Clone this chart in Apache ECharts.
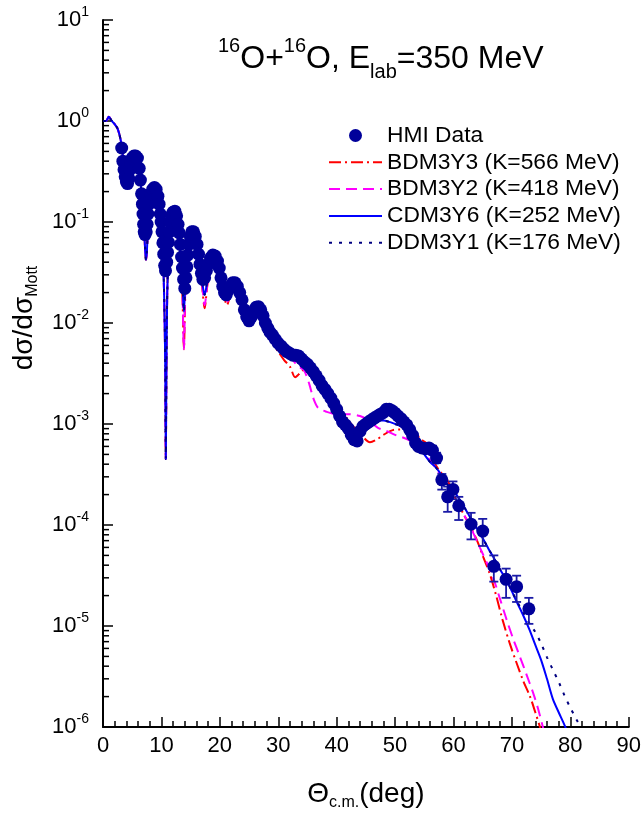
<!DOCTYPE html>
<html><head><meta charset="utf-8">
<script src="https://cdn.jsdelivr.net/npm/echarts@6/dist/echarts.min.js"></script>
<style>html,body{margin:0;padding:0;background:#fff}#c{width:644px;height:817px}</style>
</head><body><div id="c"></div><script>
// ---- data (theta c.m. in deg, dsigma/dsigma_Mott) ----
const hmiData = [
[3.2,0.54],[3.4,0.40],[3.6,0.33],[3.8,0.28],[4.0,0.25],[4.2,0.24],[4.4,0.27],[4.6,0.33],[4.8,0.38],[5.0,0.43],
[5.3,0.45],[5.6,0.45],[5.9,0.43],[6.2,0.34],[6.4,0.26],[6.6,0.19],[6.75,0.15],[6.85,0.12],[6.95,0.095],[7.05,0.08],
[7.2,0.075],[7.4,0.08],[7.55,0.095],[7.7,0.12],[7.85,0.15],[8.0,0.17],[8.2,0.19],[8.5,0.21],[8.8,0.22],[9.1,0.21],
[9.4,0.18],[9.6,0.15],[9.8,0.12],[9.95,0.10],[10.1,0.08],[10.25,0.062],[10.4,0.048],[10.55,0.037],[10.7,0.033],[10.9,0.040],
[11.05,0.050],[11.2,0.063],[11.35,0.08],[11.5,0.10],[11.7,0.115],[12.0,0.125],[12.3,0.128],[12.6,0.115],[12.85,0.095],[13.05,0.078],
[13.25,0.060],[13.45,0.045],[13.6,0.035],[13.8,0.027],[14.0,0.022],[14.2,0.028],[14.35,0.036],[14.5,0.047],[14.7,0.060],[14.95,0.072],
[15.2,0.080],[15.5,0.080],[15.8,0.072],[16.1,0.060],[16.35,0.048],[16.6,0.038],[16.85,0.031],[17.1,0.027],[17.4,0.028],[17.7,0.033],
[18.0,0.038],[18.4,0.044],[18.8,0.047],[19.2,0.046],[19.6,0.041],[19.9,0.035],[20.2,0.028],[20.5,0.023],[20.8,0.020],[21.1,0.019],
[21.4,0.021],[21.8,0.023],[22.2,0.025],[22.6,0.025],[23.0,0.023],[23.4,0.020],[23.8,0.017],[24.2,0.0135],[24.6,0.0115],[25.0,0.0105],
[25.4,0.0115],[25.8,0.013],[26.2,0.0143],[26.6,0.0145],[27.0,0.0135],[27.4,0.0118],[27.8,0.010],[28.2,0.0089],[28.6,0.0081],[29.0,0.0076],
[29.5,0.0069],[30.0,0.0063],[30.5,0.0059],[31.0,0.0055],[31.5,0.0052],[32.0,0.0050],[32.5,0.0048],[33.0,0.0048],[33.5,0.0047],[34.0,0.0044],
[34.5,0.0041],[35.0,0.0039],[35.5,0.0036],[36.0,0.0033],[36.5,0.0030],[37.0,0.0027],[37.5,0.0024],[38.0,0.0022],[38.5,0.0020],[39.0,0.0018],
[39.5,0.0016],[40.0,0.0014],[40.5,0.0012],[41.0,0.00105],[41.5,0.00098],[42.0,0.00090],[42.5,0.00078],[43.0,0.00070],[43.5,0.00068],[44.0,0.00085],
[44.5,0.00095],[45.0,0.0010],[45.5,0.00105],[46.0,0.0011],[46.5,0.00115],[47.0,0.0012],[47.5,0.00125],[48.0,0.0013],[48.5,0.0014],[49.0,0.0014],
[49.5,0.00135],[50.0,0.00128],[50.5,0.0012],[51.0,0.00113],[51.5,0.00105],[52.0,0.00098],[52.5,0.00088],[53.0,0.00077],[53.5,0.00065],[54.0,0.00060],
[54.6,0.00058],[55.2,0.00057],[55.8,0.00058],[56.4,0.00055],[57.1,0.00046],
[58.0,2.8e-4],[59.0,1.9e-4],[59.9,2.25e-4],[60.9,1.55e-4],[63.0,1.02e-4],[65.0,8.7e-5],[66.9,3.9e-5],[69.0,2.9e-5],[70.8,2.45e-5],[72.9,1.48e-5]
];
// error bars: [theta, low, high]
const hmiErrors = [
[56.4,5.0e-4,6.1e-4],[57.1,4.1e-4,5.2e-4],
[58.0,2.24e-4,3.2e-4],[59.0,1.35e-4,2.4e-4],[59.9,1.8e-4,2.7e-4],[60.9,1.12e-4,1.9e-4],[63.0,7.2e-5,1.32e-4],
[65.0,6.2e-5,1.15e-4],[66.9,2.75e-5,5.0e-5],[69.0,1.9e-5,3.7e-5],[70.8,1.73e-5,3.15e-5],[72.9,1.05e-5,1.9e-5]
];
// forward angles: all four calculations coincide
const calcForward = [
[0,1.0],[0.5,1.0],[1.0,1.1],[1.5,1.0],[2.0,0.93],[2.5,0.84],[3.0,0.66],[3.3,0.50],[3.6,0.36],[3.9,0.29],
[4.2,0.27],[4.6,0.33],[5.0,0.40],[5.5,0.45],[5.9,0.43],[6.3,0.30],[6.7,0.16],[7.0,0.09],[7.2,0.055],[7.35,0.042],
[7.5,0.05],[7.7,0.09],[8.0,0.15],[8.5,0.21],[8.9,0.22],[9.3,0.19],[9.7,0.13],[10.0,0.08],[10.3,0.04],[10.5,0.015],
[10.65,0.004],[10.75,0.00045],[10.85,0.003],[11.0,0.02],[11.3,0.06],[11.7,0.11],[12.1,0.125]
];
const bdm3y3Tail = [
[12.5,0.115],[12.9,0.08],[13.3,0.04],[13.6,0.018],[13.85,0.0055],[14.1,0.02],[14.5,0.048],[15.0,0.07],[15.5,0.076],[16.0,0.062],
[16.5,0.04],[17.0,0.022],[17.4,0.014],[17.8,0.022],[18.3,0.036],[18.9,0.045],[19.5,0.04],[20.2,0.028],[20.8,0.018],[21.2,0.015],
[21.8,0.019],[22.5,0.024],[23.2,0.021],[24.0,0.014],[24.7,0.0105],[25.2,0.0098],[25.8,0.012],[26.5,0.0138],[27.2,0.0125],[28.0,0.0093],
[29.0,0.0064],[30.0,0.0052],[31.0,0.0043],[32.0,0.0037],[32.9,0.0029],[33.5,0.0031],[34.2,0.0034],[34.9,0.0033],[36.0,0.0028],[37.1,0.0022],
[38.5,0.0019],[39.7,0.0016],[41.0,0.0013],[42.6,0.00098],[44.0,0.00081],[45.7,0.00066],[47.0,0.00071],[48.0,0.00078],[49.6,0.00087],[50.8,0.00088],
[52.5,0.00087],[53.7,0.00080],[54.2,0.00072],[55.4,0.00064],[56.5,0.00044],[57.5,0.00035],[58.9,0.00028],[60.2,0.00019],[61.6,1.32e-4],[62.8,9.8e-5],
[64.0,7.1e-5],[65.1,4.8e-5],[66.2,3.3e-5],[67.3,2.0e-5],[68.4,1.15e-5],[69.6,6.8e-6],[70.8,4.3e-6],[72.0,2.8e-6],[73.1,2.0e-6],[74.0,1.4e-6],[74.8,1.0e-6],[75.3,0.8e-6]
];
const bdm3y2Tail = [
[12.5,0.115],[12.9,0.08],[13.3,0.042],[13.6,0.02],[13.85,0.0055],[14.1,0.022],[14.5,0.048],[15.0,0.07],[15.5,0.077],[16.0,0.063],
[16.5,0.041],[17.0,0.023],[17.4,0.015],[17.8,0.023],[18.3,0.037],[18.9,0.045],[19.5,0.041],[20.2,0.029],[20.8,0.019],[21.2,0.016],
[21.8,0.02],[22.5,0.024],[23.2,0.021],[24.0,0.0145],[24.7,0.0108],[25.2,0.010],[25.8,0.0122],[26.5,0.014],[27.2,0.0128],[28.0,0.0096],
[29.0,0.0078],[30.3,0.0072],[31.4,0.0056],[32.5,0.0043],[33.5,0.0037],[34.4,0.0034],[35.3,0.0025],[36.0,0.0018],[36.8,0.00145],[38.3,0.00132],
[40.0,0.00125],[42.0,0.00125],[44.0,0.0012],[45.5,0.00108],[47.0,0.00092],[48.6,0.00085],[50.0,0.00078],[52.0,0.00071],[54.2,0.00059],[55.7,0.00046],
[57.2,0.00035],[59.4,0.00022],[60.8,1.55e-4],[62.3,1.12e-4],[64.5,6.0e-5],[66.7,3.1e-5],[67.9,1.9e-5],[69.1,1.15e-5],[70.2,7.5e-6],[71.4,4.9e-6],
[72.5,3.3e-6],[73.6,2.2e-6],[74.5,1.5e-6],[75.3,1.0e-6],[75.8,0.8e-6]
];
const cdm3y6Tail = [
[12.5,0.115],[12.9,0.08],[13.3,0.045],[13.6,0.025],[13.85,0.013],[14.1,0.025],[14.5,0.05],[15.0,0.072],[15.5,0.078],[16.0,0.065],
[16.5,0.042],[17.0,0.025],[17.4,0.019],[17.8,0.025],[18.3,0.038],[18.9,0.046],[19.5,0.042],[20.2,0.03],[20.8,0.021],[21.2,0.019],
[21.8,0.022],[22.5,0.025],[23.2,0.022],[24.0,0.015],[24.7,0.011],[25.2,0.0105],[25.8,0.013],[26.5,0.0143],[27.2,0.013],[28.0,0.0098],
[29.0,0.0078],[30.0,0.0066],[31.0,0.0058],[32.0,0.0055],[33.0,0.0052],[34.0,0.0046],[35.0,0.0040],[36.0,0.0033],[37.0,0.0027],[38.0,0.0022],
[39.0,0.0018],[40.0,0.0015],[41.0,0.0012],[42.0,0.0010],[43.0,0.00088],[44.0,0.00085],[45.0,0.00092],[46.0,0.0010],[47.0,0.00108],[48.0,0.00108],
[49.0,0.00105],[50.0,0.0010],[51.0,0.00095],[52.0,0.00087],[53.0,0.00073],[54.0,0.00061],[55.0,0.00050],[56.0,0.00042],[57.0,0.00037],[58.0,0.00031],
[59.0,0.00025],[60.0,0.00022],[61.0,1.8e-4],[62.0,1.45e-4],[63.0,1.15e-4],[64.0,9.3e-5],[65.0,7.4e-5],[66.0,5.8e-5],[67.0,4.6e-5],[68.0,3.6e-5],
[69.0,2.9e-5],[70.0,2.2e-5],[71.0,1.65e-5],[72.0,1.25e-5],[73.0,9.2e-6],[74.0,6.5e-6],[75.0,4.6e-6],[76.0,3.0e-6],[77.0,1.9e-6],[78.0,1.4e-6],
[79.2,0.98e-6],[79.6,0.8e-6]
];
const ddm3y1Tail = [
[71.0,1.7e-5],[72.0,1.35e-5],[73.0,1.06e-5],[74.0,8.7e-6],[75.0,6.7e-6],[76.0,4.9e-6],[77.0,3.7e-6],[78.0,2.8e-6],[79.0,2.05e-6],[80.0,1.55e-6],
[81.0,1.2e-6],[81.7,1.0e-6],[82.2,0.8e-6]
];
const seriesNames = ['HMI Data','BDM3Y3 (K=566 MeV)','BDM3Y2 (K=418 MeV)','CDM3Y6 (K=252 MeV)','DDM3Y1 (K=176 MeV)'];
const xTicks = {min:0, max:90, step:10};
const yDecades = [-6,-5,-4,-3,-2,-1,0,1];
const yMinorTicks = [];
for (let e = -6; e < 1; e++) for (let m = 2; m <= 9; m++) yMinorTicks.push([0, m * Math.pow(10, e)]);

const FONT = '"Liberation Sans", Arial, sans-serif';
const chart = echarts.init(document.getElementById('c'), null, {renderer:'canvas'});

const lineSeries = (name, data, color, type, z) => ({
  name, type:'line', data, symbol:'none', smooth:0.3, z,
  lineStyle:{color, width:2, type}, itemStyle:{color}, clip:true
});
const hiddenSym = {opacity:0, color:'rgba(0,0,0,0)', borderWidth:0};

chart.setOption({
  animation:false,
  backgroundColor:'#fff',
  textStyle:{fontFamily:FONT},
  grid:{left:103, right:15, top:20, bottom:90, containLabel:false},
  title:{
    left:213, top:31,
    text:'{s|16}{n|O+}{s|16}{n|O, E}{b|lab}{n|=350 MeV}',
    textStyle:{fontWeight:'normal', rich:{
      n:{fontSize:32, lineHeight:46, fontFamily:FONT, fontWeight:'normal', color:'#000'},
      s:{fontSize:20, lineHeight:16, verticalAlign:'top', fontFamily:FONT, fontWeight:'normal', color:'#000'},
      b:{fontSize:20, lineHeight:24, verticalAlign:'bottom', fontFamily:FONT, fontWeight:'normal', color:'#000'}
    }}
  },
  graphic:[{
    type:'text', x:24, y:318, rotation:Math.PI/2, silent:true,
    style:{
      text:'{n|dσ/dσ}{b|Mott}', align:'center', verticalAlign:'middle',
      rich:{
        n:{fontSize:28, lineHeight:34, fontFamily:FONT, fill:'#000'},
        b:{fontSize:16, lineHeight:18, verticalAlign:'bottom', fontFamily:FONT, fill:'#000'}
      }
    }
  }],
  legend:{
    data:[
      {name:seriesNames[0]},
      {name:seriesNames[1], itemStyle:hiddenSym},
      {name:seriesNames[2], itemStyle:hiddenSym},
      {name:seriesNames[3], itemStyle:hiddenSym},
      {name:seriesNames[4], itemStyle:hiddenSym}
    ],
    orient:'vertical', left:323, top:119,
    itemWidth:53, itemHeight:13, itemGap:3.8,
    textStyle:{fontSize:22.8, lineHeight:20, color:'#000', fontFamily:FONT},
    selectedMode:false
  },
  xAxis:{
    type:'value', min:xTicks.min, max:xTicks.max, interval:xTicks.step,
    name:'{n|Θ}{b|c.m.}{n|(deg)}', nameLocation:'middle', nameGap:50,
    nameTextStyle:{rich:{
      n:{fontSize:28, lineHeight:34, fontFamily:FONT, color:'#000'},
      b:{fontSize:16, lineHeight:18, verticalAlign:'bottom', fontFamily:FONT, color:'#000'}
    }},
    axisLine:{lineStyle:{color:'#000', width:2}},
    axisTick:{inside:true, length:10, lineStyle:{color:'#000', width:1.5}},
    minorTick:{show:true, splitNumber:5, length:6, lineStyle:{color:'#000', width:1.5}},
    axisLabel:{fontSize:22, color:'#000', margin:8, fontFamily:FONT},
    splitLine:{show:false}
  },
  yAxis:{
    type:'log', logBase:10, min:1e-6, max:10, splitNumber:7,
    axisLine:{show:true, lineStyle:{color:'#000', width:2}},
    axisTick:{inside:true, length:10, lineStyle:{color:'#000', width:1.5}},
    axisLabel:{
      margin:14, color:'#000',
      formatter:(v)=>{ const e = Math.round(Math.log10(v)); return yDecades.indexOf(e) >= 0 ? '{b|10}{e|' + e + '}' : ''; },
      rich:{
        b:{fontSize:22, lineHeight:30, fontFamily:FONT, color:'#000'},
        e:{fontSize:14, lineHeight:14, verticalAlign:'top', fontFamily:FONT, color:'#000'}
      }
    },
    splitLine:{show:false}
  },
  series:[
    lineSeries(seriesNames[1], calcForward.concat(bdm3y3Tail), '#ff0000', [12,4,2,4], 2),
    lineSeries(seriesNames[2], calcForward.concat(bdm3y2Tail), '#ff00ff', [11,6], 2),
    lineSeries(seriesNames[3], calcForward.concat(cdm3y6Tail), '#0000ff', 'solid', 2),
    lineSeries(seriesNames[4], calcForward.concat(cdm3y6Tail.filter(p=>p[0]<=70), ddm3y1Tail), '#000080', [3,7], 2),
    {
      name:seriesNames[0], type:'scatter', data:hmiData, symbol:'circle', symbolSize:13, z:4,
      itemStyle:{color:'#00009a', opacity:1}
    },
    {
      name:'errors', type:'custom', data:hmiErrors, z:4, encode:{x:0, y:[1,2]},
      renderItem:(params, api)=>{
        const lo = api.coord([api.value(0), api.value(1)]);
        const hi = api.coord([api.value(0), api.value(2)]);
        const w = 4.5;
        const st = {stroke:'#1a1aa6', lineWidth:1.8};
        return {type:'group', children:[
          {type:'line', shape:{x1:lo[0], y1:lo[1], x2:hi[0], y2:hi[1]}, style:st},
          {type:'line', shape:{x1:lo[0]-w, y1:lo[1], x2:lo[0]+w, y2:lo[1]}, style:st},
          {type:'line', shape:{x1:hi[0]-w, y1:hi[1], x2:hi[0]+w, y2:hi[1]}, style:st}
        ]};
      }
    },
    {
      name:'yMinor', type:'custom', data:yMinorTicks, z:5, silent:true, clip:false, encode:{x:0, y:1},
      renderItem:(params, api)=>{
        const p = api.coord([0, api.value(1)]);
        return {type:'line', shape:{x1:p[0], y1:p[1], x2:p[0]+6, y2:p[1]}, style:{stroke:'#000', lineWidth:1.5}};
      }
    }
  ]
});
</script></body></html>
